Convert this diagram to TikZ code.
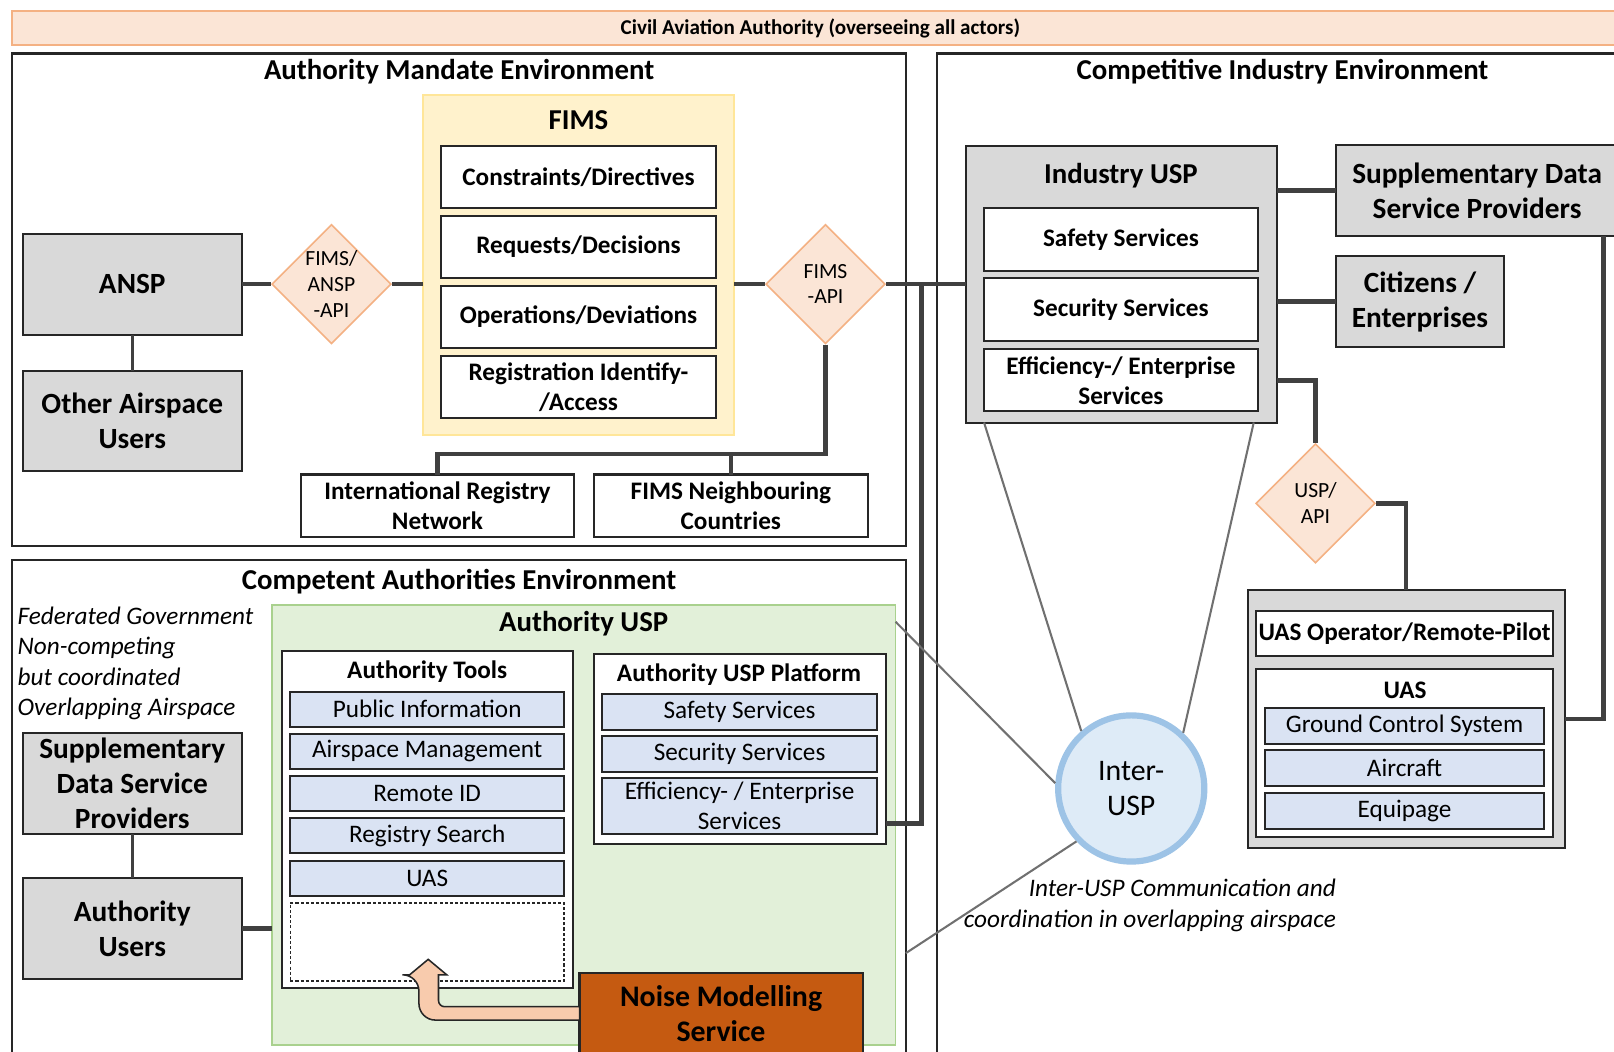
\documentclass[tikz,border=0pt]{standalone}
\usepackage{fontspec}
\setmainfont{Carlito}
\usepackage{tikz}
\usetikzlibrary{
  arrows,
  shapes.geometric,
  positioning
}

\definecolor{boxline}{HTML}{262626}
\definecolor{linkgray}{HTML}{404040}
\definecolor{finegray}{HTML}{707070}
\definecolor{greyfill}{HTML}{D9D9D9}
\definecolor{peachfill}{HTML}{FBE5D6}
\definecolor{peachline}{HTML}{F4B183}
\definecolor{fimsfill}{HTML}{FFF2CC}
\definecolor{fimsline}{HTML}{FFE699}
\definecolor{greenfill}{HTML}{E2F0D9}
\definecolor{greenline}{HTML}{A9D18E}
\definecolor{bluefill}{HTML}{DAE3F3}
\definecolor{circfill}{HTML}{DEEBF7}
\definecolor{circline}{HTML}{9DC3E6}
\definecolor{noisefill}{HTML}{C55A11}
\definecolor{arrowfill}{HTML}{F8CBAD}

\begin{document}
\begin{tikzpicture}[x=1pt,y=-1pt,node distance=7pt,
  box/.style={draw=boxline, line width=2pt, inner sep=0pt, outer sep=0pt, align=center},
  envbox/.style={box, fill=white},
  envtitle/.style={font=\fontsize{28}{32}\selectfont\bfseries},
  graybox/.style={box, fill=greyfill, minimum width=213pt, minimum height=98pt,
    font=\fontsize{28.5}{34}\selectfont\bfseries},
  whitebox/.style={box, fill=white, minimum width=268pt, minimum height=61pt,
    font=\fontsize{24.5}{29}\selectfont\bfseries},
  bluebox/.style={box, fill=bluefill, minimum width=266pt, minimum height=34pt,
    font=\fontsize{24.5}{29}\selectfont},
  api/.style={diamond, draw=peachline, fill=peachfill, line width=1.5pt,
    minimum width=116pt, minimum height=116pt, inner sep=0pt, align=center,
    font=\fontsize{21}{25}\selectfont},
  link/.style={draw=linkgray, line width=4.5pt},
  fine/.style={draw=finegray, line width=2pt},
  note/.style={align=left, inner sep=0pt, font=\fontsize{24.5}{29.7}\selectfont\itshape}
]
\useasboundingbox (0,0) rectangle (1568,1022);

% environments
\node[envbox, minimum width=868pt, minimum height=478pt] (amenv) at (446,291) {};
\node[envbox, minimum width=680pt, minimum height=988pt] (cienv) at (1250,546) {};
\node[envbox, minimum width=868pt, minimum height=496pt] (caenv) at (446,792) {};
\node[box, draw=peachline, fill=peachfill, minimum width=1570pt, minimum height=33pt,
  font=\fontsize{20.5}{24}\selectfont\bfseries] (caa) at (797,27.5)
  {Civil Aviation Authority (overseeing all actors)};
\node[envtitle] (amtitle) at (446,70) {Authority Mandate Environment};
\node[envtitle] (cititle) at (1246,70) {Competitive Industry Environment};
\node[envtitle] (catitle) at (446,565) {Competent Authorities Environment};

% authority mandate
\node[box, draw=fimsline, fill=fimsfill, minimum width=302pt, minimum height=331pt] (fims) at (562,257.5) {};
\node[envtitle] (fimstitle) at (562,117) {FIMS};
\node[whitebox] (constr) at (562,172) {Constraints/Directives};
\node[whitebox] (reqs) [below=of constr] {Requests/Decisions};
\node[whitebox] (ops) [below=of reqs] {Operations/Deviations};
\node[whitebox] (regid) [below=of ops] {Registration Identify-\\/Access};
\node[graybox] (ansp) at (128.5,276) {ANSP};
\node[graybox] (oau) [below=35pt of ansp] {Other Airspace\\Users};
\node[api] (fimsansp) at (322,276) {FIMS/\\ANSP\\-API};
\node[api] (fimsapi) at (802,276) {FIMS\\-API};
\node[whitebox, minimum width=266pt] (intreg) at (425,491.5) {International Registry\\Network};
\node[whitebox, minimum width=266pt] (neigh) at (710,491.5) {FIMS Neighbouring\\Countries};

% competitive industry
\node[box, fill=greyfill, minimum width=303pt, minimum height=269pt] (iusp) at (1089.5,276) {};
\node[envtitle] (iusptitle) at (1089,171) {Industry USP};
\node[whitebox, minimum width=266pt] (isafe) at (1089,233) {Safety Services};
\node[whitebox, minimum width=266pt] (isec) [below=of isafe] {Security Services};
\node[whitebox, minimum width=266pt, minimum height=60pt] (ieff) [below=8pt of isec] {Efficiency-/ Enterprise\\Services};
\node[graybox, minimum width=274pt, minimum height=88pt] (sdsp) at (1435,185) {Supplementary Data\\Service Providers};
\node[graybox, minimum width=163pt, minimum height=88pt] (citizens) at (1379.5,293) {Citizens /\\Enterprises};
\node[api] (uspapi) at (1278,489) {USP/\\API};
\node[box, fill=greyfill, minimum width=308pt, minimum height=251pt] (uasbox) at (1366,698.5) {};
\node[whitebox, minimum width=289pt, minimum height=43pt] (uasop) at (1364.5,615.5) {UAS Operator/Remote-Pilot};
\node[box, fill=white, minimum width=289pt, minimum height=163pt] (uas) at (1364.5,731.5) {};
\node[font=\fontsize{24.5}{29}\selectfont\bfseries] (uastitle) at (1365,671) {UAS};
\node[bluebox, minimum width=271pt, minimum height=35pt] (gcs) at (1364.5,705.5) {Ground Control System};
\node[bluebox, minimum width=271pt, minimum height=35pt] (aircraft) [below=6pt of gcs] {Aircraft};
\node[bluebox, minimum width=271pt, minimum height=35pt] (equip) [below=6pt of aircraft] {Equipage};
\node[circle, draw=circline, fill=circfill, line width=6pt, minimum size=142pt, align=center,
  font=\fontsize{29}{34}\selectfont] (interusp) at (1099,766) {Inter-\\USP};
\node[note, align=right, anchor=north east] (comm) at (1298,854)
  {Inter-USP Communication and\\coordination in overlapping airspace};

% competent authorities
\node[note, anchor=north west] (fedgov) at (17,589)
  {Federated Government\\Non-competing\\but coordinated\\Overlapping Airspace};
\node[graybox] (sdsp2) at (128.5,761) {Supplementary\\Data Service\\Providers};
\node[graybox] (authusers) [below=43pt of sdsp2] {Authority\\Users};
\node[box, draw=greenline, fill=greenfill, line width=1.5pt, minimum width=606pt, minimum height=427pt] (ausp) at (567,801.5) {};
\node[envtitle] (ausptitle) at (567,606) {Authority USP};
\node[box, fill=white, minimum width=283pt, minimum height=328pt] (atools) at (415.5,796) {};
\node[font=\fontsize{24.5}{29}\selectfont\bfseries] (atoolstitle) at (415,652) {Authority Tools};
\node[bluebox] (pubinfo) at (415,689) {Public Information};
\node[bluebox] (airman) [below=of pubinfo] {Airspace Management};
\node[bluebox] (remid) [below=of airman] {Remote ID};
\node[bluebox] (regsearch) [below=of remid] {Registry Search};
\node[bluebox] (atuas) [below=of regsearch] {UAS};
\node[box, densely dashed, fill=white, line width=1.5pt, minimum width=266pt, minimum height=76pt] (slot) [below=of atuas] {};
\node[box, fill=white, minimum width=284pt, minimum height=185pt] (aplat) at (719,727.5) {};
\node[font=\fontsize{24.5}{29}\selectfont\bfseries] (aplattitle) at (718,655) {Authority USP Platform};
\node[bluebox, minimum width=267pt, minimum height=35pt] (psafe) at (718.5,691.5) {Safety Services};
\node[bluebox, minimum width=267pt, minimum height=35pt] (psec) [below=6pt of psafe] {Security Services};
\node[bluebox, minimum width=267pt, minimum height=54pt] (peff) [below=6pt of psec] {Efficiency- / Enterprise\\Services};
\node[box, fill=noisefill, minimum width=275pt, minimum height=80pt,
  font=\fontsize{29}{34}\selectfont\bfseries] (noise) at (700.5,985) {Noise Modelling\\Service};

% links
\coordinate (regbus) at (0,441);
\coordinate (tap) at (895,276);
\path[link] (ansp) edge (fimsansp)
            (fimsansp.east) edge (fimsansp.east -| fims.west)
            (fimsapi.west -| fims.east) edge (fimsapi.west)
            (fimsapi.east) edge (iusp.west)
            (sdsp.west -| iusp.east) edge (sdsp.west)
            (citizens.west -| iusp.east) edge (citizens.west)
            (authusers.east) edge (authusers.east -| ausp.west);
\path[link, line width=3pt] (ansp) edge (oau)
            (sdsp2) edge (authusers);
\draw[link] (fimsapi.south) |- (intreg.north |- regbus) -- (intreg.north);
\draw[link] (neigh.north) -- (neigh.north |- regbus);
\draw[link] (tap) |- ([yshift=-72.5pt]aplat.east);
\draw[link] (ieff.east -| iusp.east) -| (uspapi.north);
\draw[link] (uspapi.east) -| (uasbox.north);
\draw[link] (uasbox.east) -| ([xshift=123pt]sdsp.south);

% inter-USP lines
\path[fine] ([xshift=18pt]iusp.south west) edge (interusp.131)
            ([xshift=-23pt]iusp.south east) edge (interusp.47)
            ([yshift=-16pt]ausp.north east) edge (interusp.176)
            ([yshift=-134pt]caenv.east) edge (interusp.224);

% noise model arrow
\draw[draw=boxline, fill=arrowfill, line width=1.5pt]
  (noise.west) ++(0,6) [rounded corners=16pt] -- ++(-156,0) -- ++(0,-44)
  [sharp corners] -- ++(-9,0) -- ++(18,-15) -- ++(18,15) -- ++(-8,0)
  [rounded corners=6pt] -- ++(0,31) [sharp corners] -- ++(137,0) -- cycle;
\end{tikzpicture}
\end{document}
